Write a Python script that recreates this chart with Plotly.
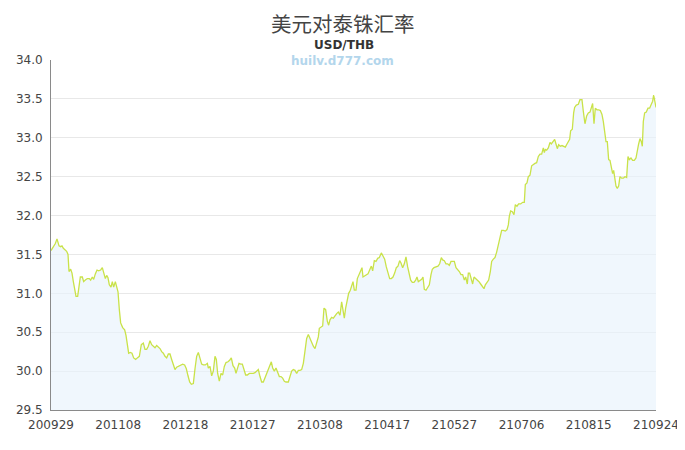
import pandas as pd
import plotly.graph_objects as go

title_text = "美元对泰铢汇率"
subtitle_text = "USD/THB"
watermark_text = "huilv.d777.com"
start_date = "2020-09-29"
end_date = "2021-09-24"
tick_labels = ["200929", "201108", "201218", "210127", "210308",
               "210417", "210527", "210706", "210815", "210924"]

# days after 2020-09-29
day_offset = [
    0.0, 1.19, 2.58, 3.57, 4.76, 5.75, 6.55, 7.34, 8.53, 9.32, 10.12, 10.71, 11.70, 12.50, 13.29,
    14.08, 14.88, 15.87, 16.66, 17.45, 18.64, 19.44, 20.43, 21.62, 22.81, 23.60, 24.59, 25.39,
    26.38, 27.37, 28.36, 29.55, 30.54, 31.34, 32.33, 33.12, 33.92, 34.71, 35.70, 36.49, 37.29,
    38.28, 39.07, 39.87, 40.66, 41.45, 42.64, 43.83, 44.63, 45.42, 46.21, 47.20, 48.19, 49.19,
    50.38, 51.37, 52.56, 53.75, 54.94, 55.93, 56.92, 57.91, 58.91, 59.90, 60.89, 61.88, 62.87,
    63.86, 64.86, 65.85, 66.84, 67.83, 68.82, 69.82, 70.81, 71.80, 72.79, 73.78, 74.77, 75.96,
    77.15, 78.34, 79.53, 80.53, 81.52, 82.51, 83.50, 84.69, 85.68, 86.67, 87.67, 88.66, 89.65,
    90.64, 91.83, 93.02,
    93.62, 94.61, 95.60, 96.59, 97.58, 98.38, 99.17, 100.16, 101.15, 102.15, 103.14, 104.13,
    105.32, 106.31, 107.30, 108.29, 109.29, 110.08, 111.07, 111.86, 112.86, 113.85, 114.84,
    115.83, 116.82, 118.01, 119.20, 120.39, 121.38, 122.38, 123.37, 124.36, 125.35, 126.34,
    127.34, 128.33, 129.52, 130.31, 131.10, 131.90, 132.89, 133.88, 134.87, 135.86, 136.86,
    137.85, 138.84, 139.83, 141.22, 142.21, 143.20, 144.19, 145.19, 146.18, 147.17, 148.16,
    149.15, 150.15, 151.14, 152.13, 153.12, 154.11, 155.10, 156.10, 157.09, 158.08, 159.07,
    159.67, 160.66, 161.65, 162.44, 163.43, 164.43, 165.22, 166.01, 167.00, 168.00, 168.99,
    169.98, 170.97, 171.96, 172.95, 173.75, 174.54, 175.33, 176.13, 177.12, 178.11, 178.90,
    179.70, 180.49, 181.48, 182.28, 183.46,
    184.26, 185.05, 185.65, 186.64, 187.63, 188.62, 189.61, 190.61, 191.40, 192.39, 193.38,
    194.37, 195.37, 196.56, 197.55, 198.54, 199.53, 200.52, 201.52, 202.51, 203.50, 204.49,
    205.48, 206.47, 207.47, 208.26, 209.25, 210.24, 211.23, 212.23, 213.02, 214.01, 215.00,
    215.99, 216.99, 217.78, 218.57, 219.56, 220.56, 221.35, 222.14, 223.13, 224.13, 225.12,
    226.11, 226.90, 227.89, 229.08, 230.27, 231.27, 232.26, 233.05, 234.04, 235.03, 236.03,
    237.02, 238.01, 239.00, 239.99, 240.99, 241.98, 242.97, 243.96, 244.95, 245.95, 246.74,
    247.73, 248.32, 249.12, 250.11, 250.90, 251.70, 252.69, 253.68, 254.67, 255.66, 256.66,
    257.65, 258.44, 259.43, 260.42, 261.42, 262.21, 263.20, 264.19, 265.18, 266.17, 267.17,
    268.16, 269.15, 270.34, 271.33, 272.13, 272.72,
    273.51, 274.50, 275.49, 276.29, 277.28, 278.27, 279.46, 280.65, 281.64, 282.24, 283.23,
    284.02, 285.02, 286.01, 287.00, 287.99, 288.98, 289.98, 290.97, 291.96, 292.95, 293.55,
    294.14, 294.93, 295.92, 296.92, 297.71, 298.70, 299.69, 300.49, 301.28, 302.07, 303.06,
    304.06, 305.05, 306.04, 307.03, 307.82, 308.62, 309.21, 310.20, 311.00, 311.59, 312.58,
    313.77, 314.76, 315.95, 316.75, 317.74, 318.73, 319.72, 320.72, 321.51, 322.30, 323.10,
    323.89, 324.88, 325.87, 326.86, 327.85, 328.65, 329.44, 330.24, 331.03, 331.82, 332.62,
    333.41, 334.20, 334.80, 335.39, 336.19, 336.98, 337.77, 338.56, 339.56, 340.55, 341.54,
    342.53, 343.33, 344.12, 345.11, 346.10, 347.10, 348.09, 348.88, 349.67, 350.47, 351.26,
    351.86, 352.45, 353.24, 354.23, 355.23, 356.22, 357.21, 358.00, 358.60, 359.39, 360.00,
]

rate = [
    31.55, 31.59, 31.64, 31.70, 31.61, 31.60, 31.61, 31.58, 31.56, 31.54, 31.50, 31.28, 31.31, 31.26, 31.15,
    31.02, 30.96, 30.96, 31.06, 31.21, 31.21, 31.15, 31.17, 31.19, 31.19, 31.17, 31.21, 31.18,
    31.25, 31.30, 31.29, 31.30, 31.33, 31.25, 31.19, 31.23, 31.20, 31.11, 31.08, 31.15, 31.08,
    31.15, 31.06, 31.02, 30.79, 30.62, 30.56, 30.53, 30.46, 30.32, 30.23, 30.24, 30.23, 30.17,
    30.15, 30.17, 30.19, 30.34, 30.36, 30.28, 30.28, 30.32, 30.39, 30.34, 30.32, 30.30, 30.33,
    30.31, 30.29, 30.25, 30.23, 30.19, 30.17, 30.22, 30.22, 30.15, 30.09, 30.02, 30.05, 30.06,
    30.08, 30.09, 30.08, 30.03, 29.94, 29.86, 29.83, 29.84, 30.03, 30.19, 30.24, 30.17, 30.09,
    30.08, 30.08, 30.10,
    30.04, 30.06, 29.94, 30.00, 30.19, 30.15, 29.97, 29.87, 29.97, 29.95, 30.06, 30.11,
    30.12, 30.14, 30.17, 30.07, 30.04, 29.97, 30.04, 30.10, 30.09, 30.09, 30.02,
    29.95, 29.95, 29.97, 29.97, 29.97, 29.98, 30.00, 30.02, 29.93, 29.86, 29.86,
    29.91, 29.97, 30.02, 30.06, 30.12, 30.04, 30.00, 30.04, 29.97, 29.93, 29.93,
    29.91, 29.87, 29.86, 29.86, 29.92, 30.00, 30.02, 30.01, 29.97, 30.01, 30.01,
    30.02, 30.10, 30.27, 30.42, 30.47, 30.42, 30.36, 30.32, 30.29, 30.36, 30.44,
    30.55, 30.56, 30.58, 30.81, 30.79, 30.64, 30.59, 30.66, 30.69, 30.68, 30.72,
    30.74, 30.76, 30.72, 30.89, 30.79, 30.68, 30.81, 30.91, 31.00, 31.04, 31.09,
    31.15, 31.04, 31.04, 31.19, 31.26,
    31.30, 31.33, 31.21, 31.22, 31.24, 31.25, 31.30, 31.35, 31.29, 31.42, 31.41,
    31.45, 31.46, 31.52, 31.48, 31.44, 31.34, 31.25, 31.19, 31.19, 31.21, 31.26,
    31.33, 31.35, 31.42, 31.39, 31.33, 31.38, 31.47, 31.34, 31.24, 31.17, 31.14,
    31.14, 31.17, 31.21, 31.15, 31.16, 31.18, 31.21, 31.05, 31.04, 31.08, 31.11,
    31.24, 31.31, 31.33, 31.34, 31.35, 31.38, 31.46, 31.43, 31.42, 31.38, 31.38,
    31.36, 31.41, 31.41, 31.41, 31.33, 31.31, 31.28, 31.24, 31.24, 31.17, 31.21,
    31.12, 31.26, 31.26, 31.19, 31.12, 31.21, 31.19, 31.18, 31.15, 31.12, 31.08,
    31.06, 31.11, 31.14, 31.17, 31.28, 31.41, 31.44, 31.46, 31.53, 31.62, 31.72,
    31.81, 31.81, 31.80, 31.82, 31.88, 31.99,
    32.06, 32.05, 32.01, 32.14, 32.12, 32.15, 32.15, 32.17, 32.17, 32.40, 32.42,
    32.50, 32.52, 32.64, 32.66, 32.67, 32.68, 32.76, 32.79, 32.79, 32.87, 32.81,
    32.85, 32.84, 32.87, 32.94, 32.92, 32.96, 32.98, 32.92, 32.86, 32.91, 32.89,
    32.90, 32.89, 32.88, 32.92, 32.96, 32.98, 33.09, 33.11, 33.32, 33.39, 33.42,
    33.43, 33.49, 33.49, 33.34, 33.18, 33.28, 33.32, 33.33, 33.38, 33.44, 33.18,
    33.38, 33.36, 33.36, 33.35, 33.30, 33.21, 33.09, 32.95, 32.95, 32.72, 32.71,
    32.62, 32.54, 32.58, 32.49, 32.38, 32.35, 32.38, 32.50, 32.48, 32.48, 32.50,
    32.49, 32.76, 32.72, 32.74, 32.71, 32.71, 32.74, 32.85, 32.92, 32.99, 32.95,
    32.89, 33.21, 33.32, 33.33, 33.38, 33.38, 33.43, 33.47, 33.55, 33.45, 33.39,
]

t0 = pd.Timestamp(start_date)
dates = t0 + pd.to_timedelta(day_offset, unit="D")
tick_vals = [pd.Timestamp("20" + s[:2] + "-" + s[2:4] + "-" + s[4:]) for s in tick_labels]

fig = go.Figure()
fig.add_trace(go.Scatter(
    x=dates, y=rate, mode="lines",
    line=dict(color="#c9e249", width=1.3),
    fill="tozeroy", fillcolor="rgba(232,243,252,0.65)",
    hoverinfo="x+y", showlegend=False,
))

# page has an 8px body margin; margins compensate so the plot area sits at x 51-656, y 60-410
fig.update_layout(
    width=685, height=450,
    margin=dict(l=43, r=37, t=52, b=48),
    paper_bgcolor="white", plot_bgcolor="white",
    font=dict(family="DejaVu Sans, sans-serif", color="#444", size=12),
)

H_plot = 350
W_plot = 605
def ypaper(py):
    return (410 - py) / H_plot
def xpaper(px):
    return (px - 51) / W_plot

fig.add_annotation(text=title_text, x=xpaper(343), xref="paper", y=ypaper(23), yref="paper",
                   showarrow=False, yanchor="middle", xanchor="center",
                   font=dict(family="Noto Sans CJK SC", size=20.5, color="#444"))
fig.add_annotation(text="<b>" + subtitle_text + "</b>", x=xpaper(344), xref="paper", y=ypaper(45),
                   yref="paper", showarrow=False, yanchor="middle", xanchor="center",
                   font=dict(family="DejaVu Sans", size=12, color="#333"))
fig.add_annotation(text="<b>" + watermark_text + "</b>", x=xpaper(342), xref="paper", y=ypaper(61),
                   yref="paper", showarrow=False, yanchor="middle", xanchor="center",
                   font=dict(family="DejaVu Sans", size=12, color="#b3d6ec"))

fig.update_xaxes(
    type="date", automargin=False,
    range=[t0, pd.Timestamp(end_date)],
    tickmode="array", tickvals=tick_vals, ticktext=tick_labels,
    showgrid=False, showline=True, linecolor="#8a8a8a", linewidth=1,
    ticks="", ticklabelstandoff=4, tickfont=dict(size=12, color="#444"), zeroline=False,
)
fig.update_yaxes(
    automargin=False,
    range=[29.5, 34.0], dtick=0.5, tick0=29.5, tickformat=".1f",
    showgrid=True, gridcolor="#e8e8e8", gridwidth=1,
    showline=True, linecolor="#8a8a8a", linewidth=1,
    ticks="", ticklabelstandoff=5, tickfont=dict(size=12, color="#444"), zeroline=False,
)

fig.write_html("out.html")
